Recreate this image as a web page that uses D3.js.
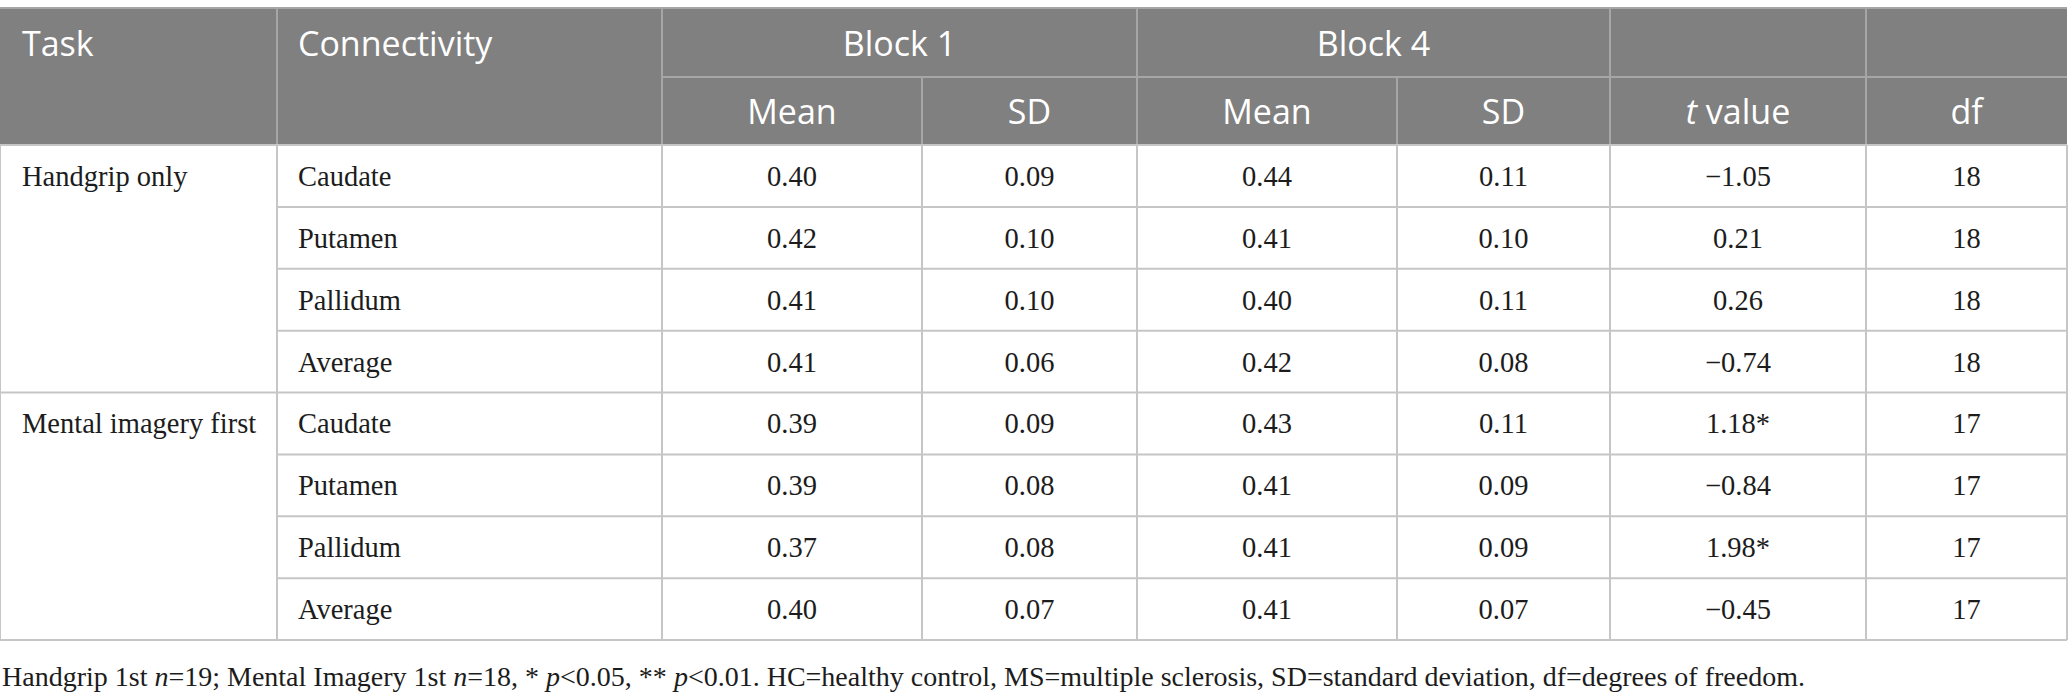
<!DOCTYPE html>
<html>
<head>
<meta charset="utf-8">
<script src="https://cdn.jsdelivr.net/npm/d3@7"></script>
<style>
  html, body { margin: 0; padding: 0; background: #fff; }
</style>
</head>
<body>
<div id="table"></div>
<script>
/* global d3 */

// table content
const tasks = ['Handgrip only', 'Mental imagery first'];
const regions = ['Caudate', 'Putamen', 'Pallidum', 'Average'];
const block1Mean = ['0.40', '0.42', '0.41', '0.41', '0.39', '0.39', '0.37', '0.40'];
const block1SD = ['0.09', '0.10', '0.10', '0.06', '0.09', '0.08', '0.08', '0.07'];
const block4Mean = ['0.44', '0.41', '0.40', '0.42', '0.43', '0.41', '0.41', '0.41'];
const block4SD = ['0.11', '0.10', '0.11', '0.08', '0.11', '0.09', '0.09', '0.07'];
const tValues = ['−1.05', '0.21', '0.26', '−0.74', '1.18*', '−0.84', '1.98*', '−0.45'];
const dfValues = ['18', '18', '18', '18', '17', '17', '17', '17'];
const groupHeaders = ['Block 1', 'Block 4'];
const subHeaders = ['Mean', 'SD', 'Mean', 'SD'];
const footnote = [
  ['Handgrip 1st ', false], ['n', true], ['=19; Mental Imagery 1st ', false],
  ['n', true], ['=18, * ', false], ['p', true], ['<0.05, ** ', false],
  ['p', true],
  ['<0.01. HC=healthy control, MS=multiple sclerosis, SD=standard deviation, df=degrees of freedom.', false],
];

const width = 2068;
const height = 699;
const colWidths = [277, 385, 260, 215, 260, 213, 256, 201];
const colStart = [0, ...d3.cumsum(colWidths)];
const tableTop = 8;
const headMid = 77;
const headBottom = 145;
const bodyBottom = 640;
const right = colStart[colStart.length - 1];

const headFill = '#808080';
const headLine = '#a6a6a6';
const gridLine = '#c6c6c6';
const ink = '#1c1c1c';
const sans = "'Open Sans', 'Noto Sans', sans-serif";
const serif = "'Liberation Serif', 'DejaVu Serif', serif";

const rows = d3.range(tasks.length * regions.length);
const yScale = d3.scaleBand().domain(rows).range([headBottom, bodyBottom]);
const colMid = (i) => (colStart[i] + colStart[i + 1]) / 2;

const svg = d3.select('#table')
  .append('svg')
  .attr('width', width)
  .attr('height', height);

// header background
svg.append('rect')
  .attr('x', 0)
  .attr('y', tableTop)
  .attr('width', right)
  .attr('height', headBottom - tableTop)
  .attr('fill', headFill);

const head = svg.append('g')
  .style('font-family', sans)
  .style('font-size', '34px')
  .attr('fill', '#fff');

const row1Base = (tableTop + headMid) / 2 + 13;
const row2Base = (headMid + headBottom) / 2 + 13;

head.append('text').attr('x', colStart[0] + 22).attr('y', row1Base).text('Task');
head.append('text').attr('x', colStart[1] + 21).attr('y', row1Base).text('Connectivity');

groupHeaders.forEach((g, i) => {
  head.append('text')
    .attr('x', (colStart[2 + i * 2] + colStart[4 + i * 2]) / 2)
    .attr('y', row1Base)
    .attr('text-anchor', 'middle')
    .text(g);
});

subHeaders.forEach((s, i) => {
  head.append('text')
    .attr('x', colMid(2 + i))
    .attr('y', row2Base)
    .attr('text-anchor', 'middle')
    .text(s);
});

const tHead = head.append('text')
  .attr('x', colMid(6))
  .attr('y', row2Base)
  .attr('text-anchor', 'middle');
tHead.append('tspan').style('font-style', 'italic').text('t');
tHead.append('tspan').text(' value');

head.append('text')
  .attr('x', colMid(7))
  .attr('y', row2Base)
  .attr('text-anchor', 'middle')
  .text('df');

// header lines
const hl = svg.append('g').attr('stroke', headLine).attr('stroke-width', 2);
hl.append('line').attr('x1', 0).attr('x2', right).attr('y1', tableTop).attr('y2', tableTop);
hl.append('line').attr('x1', colStart[2]).attr('x2', right).attr('y1', headMid).attr('y2', headMid);
[1, 2, 4, 6, 7].forEach((c) => {
  hl.append('line').attr('x1', colStart[c]).attr('x2', colStart[c]).attr('y1', tableTop).attr('y2', headBottom);
});
[3, 5].forEach((c) => {
  hl.append('line').attr('x1', colStart[c]).attr('x2', colStart[c]).attr('y1', headMid).attr('y2', headBottom);
});

// body grid
const grid = svg.append('g').attr('stroke', gridLine).attr('stroke-width', 2);
rows.forEach((r) => {
  const startX = (r % regions.length === 0) ? 0 : colStart[1];
  grid.append('line')
    .attr('x1', startX).attr('x2', right)
    .attr('y1', yScale(r)).attr('y2', yScale(r));
});
grid.append('line').attr('x1', 0).attr('x2', right).attr('y1', bodyBottom).attr('y2', bodyBottom);
d3.range(colStart.length).forEach((c) => {
  grid.append('line')
    .attr('x1', colStart[c]).attr('x2', colStart[c])
    .attr('y1', headBottom).attr('y2', bodyBottom);
});

// body text
const body = svg.append('g')
  .style('font-family', serif)
  .style('font-size', '28.5px')
  .attr('fill', ink);

const baseline = (r) => yScale(r) + yScale.bandwidth() / 2 + 10;

tasks.forEach((t, i) => {
  body.append('text')
    .attr('x', colStart[0] + 22)
    .attr('y', baseline(i * regions.length))
    .text(t);
});

rows.forEach((r) => {
  body.append('text')
    .attr('x', colStart[1] + 21)
    .attr('y', baseline(r))
    .text(regions[r % regions.length]);
});

const numberCols = [block1Mean, block1SD, block4Mean, block4SD, tValues, dfValues];
numberCols.forEach((col, ci) => {
  body.selectAll(null)
    .data(col)
    .enter()
    .append('text')
    .attr('x', colMid(2 + ci))
    .attr('y', (d, r) => baseline(r))
    .attr('text-anchor', 'middle')
    .text((d) => d);
});

// footnote
const note = svg.append('text')
  .attr('x', 2)
  .attr('y', 686)
  .style('font-family', serif)
  .style('font-size', '28px')
  .attr('fill', ink);
footnote.forEach(([txt, it]) => {
  note.append('tspan')
    .style('font-style', it ? 'italic' : 'normal')
    .text(txt);
});
</script>
</body>
</html>
